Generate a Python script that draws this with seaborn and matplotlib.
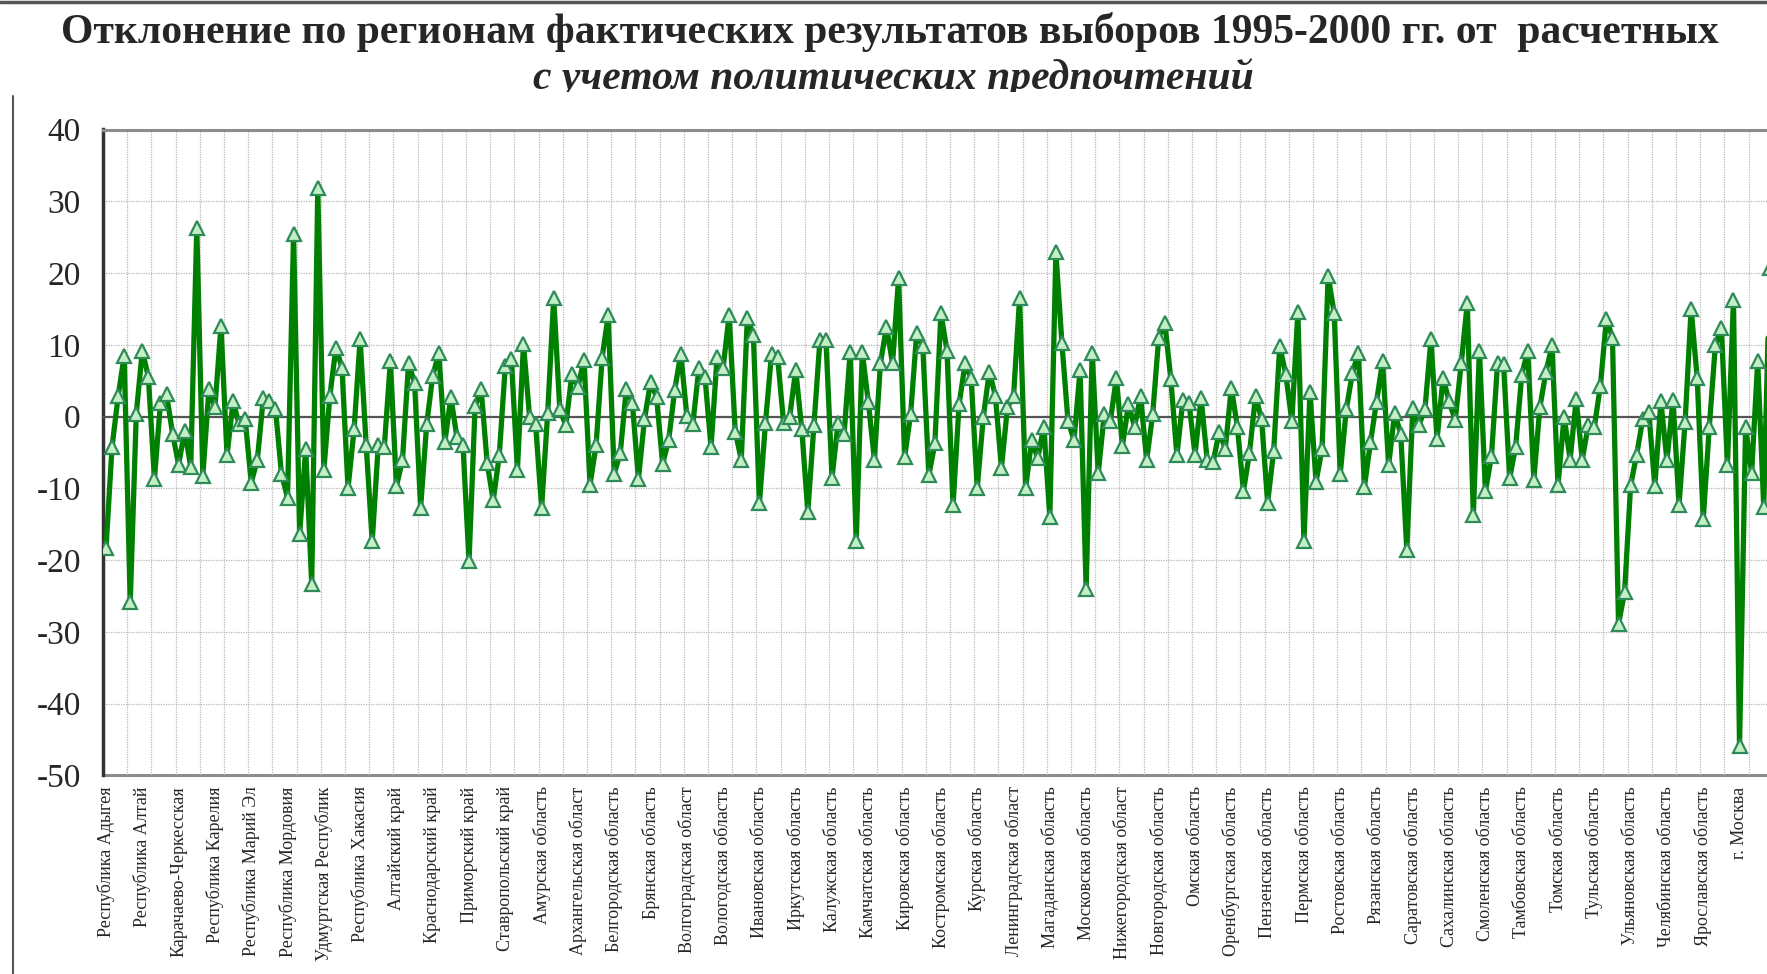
import numpy as np
import pandas as pd
import seaborn as sns
import matplotlib.pyplot as plt
from matplotlib.lines import Line2D
from matplotlib.transforms import Bbox, TransformedBbox

# Data: one value per point, region label every 6th point
otklonenie = [
    -18.3, -4.2, 2.8, 8.5, -25.9, 0.4, 9.2, 5.5, -8.7, 1.9, 3.1, -2.4,
    -6.7, -2.0, -7.0, 26.3, -8.3, 3.8, 1.3, 12.6, -5.4, 2.1, -1.1, -0.4,
    -9.2, -6.1, 2.6, 2.2, 1.1, -8.0, -11.3, 25.5, -16.4, -4.5, -23.4, 31.8,
    -7.5, 2.9, 9.6, 6.8, -10.0, -1.8, 10.8, -4.0, -17.4, -3.9, -4.2, 7.7,
    -9.7, -6.1, 7.4, 4.7, -12.7, -1.1, 5.7, 8.8, -3.6, 2.7, -2.9, -4.0,
    -20.2, 1.4, 3.9, -6.5, -11.7, -5.4, 7.1, 8.0, -7.4, 10.1, 0.0, -1.1,
    -12.7, 0.5, 16.5, 1.0, -1.25, 5.9, 4.1, 7.9, -9.5, -4.0, 8.2, 14.1,
    -8.0, -5.1, 3.9, 1.9, -8.7, -0.4, 4.8, 2.7, -6.6, -3.3, 3.7, 8.75,
    0.1, -1.0, 6.8, 5.5, -4.3, 8.3, 6.8, 14.2, -2.1, -6.0, 13.7, 11.3,
    -12.1, -0.9, 8.75, 8.3, -0.9, 0.0, 6.5, -1.8, -13.3, -1.25, 10.65, 10.65,
    -8.5, -0.9, -2.4, 9.0, -17.4, 9.0, 2.0, -6.0, 7.4, 12.5, 7.4, 19.3,
    -5.7, 0.4, 11.7, 9.8, -8.2, -3.75, 14.4, 9.2, -12.4, 1.7, 7.4, 5.3,
    -10.0, -0.1, 6.25, 2.9, -7.2, 1.3, 2.8, 16.5, -10.0, -3.3, -5.8, -1.4,
    -14.0, 22.9, 10.2, -0.6, -3.3, 6.5, -24.1, 8.9, -7.9, 0.3, -0.65, 5.4,
    -4.1, 1.7, -1.4, 2.9, -6.1, 0.3, 11.0, 13.1, 5.2, -5.4, 2.3, 1.9,
    -5.3, 2.6, -6.0, -6.3, -2.1, -4.5, 4.0, -1.4, -10.4, -5.1, 2.9, -0.4,
    -12.0, -4.8, 9.8, 5.9, -0.65, 14.6, -17.4, 3.4, -9.1, -4.5, 19.6, 14.4,
    -8.0, 1.0, 6.0, 8.9, -9.8, -3.6, 2.0, 7.7, -6.8, 0.5, -2.4, -18.6,
    1.2, -1.2, 1.0, 10.8, -3.2, 5.4, 2.1, -0.5, 7.4, 15.8, -13.75, 9.2,
    -10.4, -5.5, 7.4, 7.3, -8.6, -4.2, 5.8, 9.2, -8.8, 1.3, 6.2, 9.9,
    -9.6, 0.0, -6.0, 2.4, -6.0, -1.25, -1.5, 4.3, 13.6, 11.0, -28.9, -24.5,
    -9.6, -5.3, -0.4, 0.6, -9.7, 2.1, -6.1, 2.3, -12.3, -0.8, 15.0, 5.4,
    -14.3, -1.5, 9.9, 12.4, -6.8, 16.3, -45.9, -1.5, -7.9, 7.7, -12.6, 20.7,
]

regions = [
    "Республика Адыгея", "Республика Алтай", "Карачаево-Черкесская",
    "Республика Карелия", "Республика Марий Эл", "Республика Мордовия",
    "Удмуртская Республик", "Республика Хакасия", "Алтайский край",
    "Краснодарский край", "Приморский край", "Ставропольский край",
    "Амурская область", "Архангельская област", "Белгородская область",
    "Брянская область", "Волгоградская област", "Вологодская область",
    "Ивановская область", "Иркутская область", "Калужская область",
    "Камчатская область", "Кировская область", "Костромская область",
    "Курская область", "Ленинградская област", "Магаданская область",
    "Московская область", "Нижегородская област", "Новгородская область",
    "Омская область", "Оренбургская область", "Пензенская область",
    "Пермская область", "Ростовская область", "Рязанская область",
    "Саратовская область", "Сахалинская область", "Смоленская область",
    "Тамбовская область", "Томская область", "Тульская область",
    "Ульяновская область", "Челябинская область", "Ярославская область",
    "г. Москва",
]

y_ticks = [-50, -40, -30, -20, -10, 0, 10, 20, 30, 40]

title_1 = "Отклонение по регионам фактических результатов выборов 1995-2000 гг. от  расчетных"
title_2 = "с учетом политических предпочтений"

df = pd.DataFrame({"pos": np.arange(len(otklonenie)), "val": otklonenie})
label_step = 6
grid_step = 4

sns.set_style("white")
plt.rcParams["font.family"] = ["Liberation Serif", "DejaVu Serif"]

W, H = 1767, 974
fig = plt.figure(figsize=(W / 100, H / 100), dpi=100)

#Plot area: category step ~6.05 px, axes run on past the right edge (cropped like the source)
step_px = 6.05
x_max = 289.5
left_px, top_px, bottom_px = 103, 129.5, 775.3
ax = fig.add_axes([left_px / W, 1 - bottom_px / H,
                   (x_max + 0.5) * step_px / W, (bottom_px - top_px) / H])

sns.lineplot(data=df, x="pos", y="val", ax=ax, color="#008000", lw=3.8,
             marker="^", markersize=10, markerfacecolor="#c4efc4",
             markeredgecolor="#2e8b57", markeredgewidth=1.6, legend=False, zorder=5)

ax.set_xlim(-0.5, x_max)
ax.set_ylim(-50, 40)
ax.set_xlabel("")
ax.set_ylabel("")

#Gridlines
ax.set_yticks(y_ticks)
ax.set_yticklabels([str(v) for v in y_ticks], fontsize=24)
ax.tick_params(axis="y", direction="out", length=9, width=1.5, color="#404040", pad=7)
ax.set_xticks(np.arange(grid_step - 0.5, x_max, grid_step))
ax.set_xticklabels([])
ax.tick_params(axis="x", direction="out", length=4, width=1.2, color="#505050")
ax.grid(True, color="#b8b8b8", linestyle=(0, (1, 1)), linewidth=0.9)

#Horizontal axis crosses at zero, labels sit low
ax.spines["bottom"].set_position(("data", 0))
ax.spines["bottom"].set_color("#555555")
ax.spines["bottom"].set_linewidth(1.6)
ax.spines["left"].set_color("#333333")
ax.spines["left"].set_linewidth(2.5)
ax.spines["top"].set_color("#8c8c8c")
ax.spines["top"].set_linewidth(2.2)
ax.spines["right"].set_visible(False)

secax = ax.secondary_xaxis("bottom")
secax.set_xticks(np.arange(0, len(regions) * label_step, label_step))
secax.set_xticklabels(regions, rotation=90, fontsize=13, va="top", ha="center")
secax.tick_params(axis="x", length=0, pad=8)
secax.spines["bottom"].set_color("#8c8c8c")
secax.spines["bottom"].set_linewidth(2.2)

#Chart border
fig.add_artist(Line2D([0, 1], [1 - 1.5 / H, 1 - 1.5 / H], color="#555555", lw=2.5))
fig.add_artist(Line2D([13 / W, 13 / W], [0, 1 - 96 / H], color="#555555", lw=1.5))

fig.text(890 / W, 1 - 32 / H, title_1, ha="center", va="center",
         fontsize=30, fontweight="bold")
t2 = fig.text(893 / W, 1 - 78 / H, title_2, ha="center", va="center",
              fontsize=30, fontweight="bold", style="italic", clip_on=True)
t2.set_clip_box(TransformedBbox(Bbox([[0, 1 - 92 / H], [1, 1]]), fig.transFigure))

fig.savefig("out.png", dpi=100)
